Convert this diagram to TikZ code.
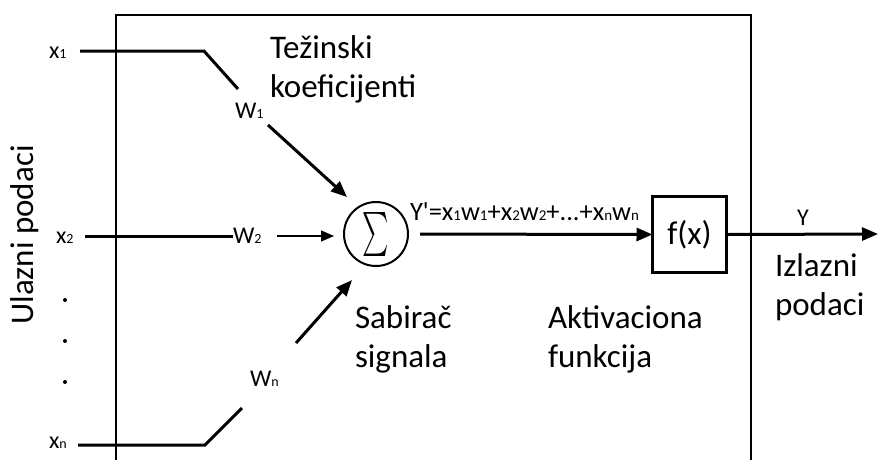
\documentclass[tikz,border=0pt]{standalone}
\usepackage{fontspec}
\setmainfont{Carlito}
\usetikzlibrary{arrows.meta}
\newcommand\lowidx[1]{{\fontsize{14}{14}\selectfont #1}}
\newcommand\fidx[1]{{\fontsize{15}{15}\selectfont #1}}
\begin{document}
\begin{tikzpicture}[x=1pt,y=-1pt,
  every node/.style={inner sep=0pt, outer sep=0pt},
  big/.style={font=\fontsize{33}{39}\selectfont, align=left, anchor=base west},
  lbl/.style={font=\fontsize{24}{24}\selectfont, anchor=base west},
  wire/.style={line width=3pt},
  thinwire/.style={line width=1.4pt},
  arr/.style={-{Triangle[length=16pt,width=13pt]}},
  tarr/.style={-{Triangle[length=13pt,width=11pt]}},
  dot/.style={circle, fill, minimum size=4pt},
]
\useasboundingbox (0,0) rectangle (878,459);
% frame
\coordinate (fbl) at (116,462);
\coordinate (ftl) at (116,15);
\coordinate (ftr) at (751,15);
\coordinate (fbr) at (751,462);
\draw[line width=1.3pt] (fbl) -- (ftl) -- (ftr) -- (fbr);

% inputs
\node[lbl] (x1) at (49,58) {x\lowidx{1}};
\node[lbl] (x2) at (56,243) {x\lowidx{2}};
\node[lbl] (xn) at (49,448) {x\lowidx{n}};
\node[dot] (d1) at (65,300) {};
\node[dot] (d2) at (65,341) {};
\node[dot] (d3) at (65,382) {};

\node[lbl] (w1) at (235,118) {W\lowidx{1}};
\node[lbl] (w2) at (233,243) {W\lowidx{2}};
\node[lbl] (wn) at (250,386) {W\lowidx{n}};

\node[big, rotate=90, anchor=base] (ul) at (33,235) {Ulazni podaci};

% sum and activation
\node[circle, draw, line width=2pt, minimum size=64pt] (sum) at (376,234) {\scalebox{2.5}[4.4]{$\sum$}};
\node[draw, line width=3pt, minimum width=74pt, minimum height=76pt, font=\fontsize{33}{33}\selectfont] (fx) at (689.5,234.5) {f(x)};

% wires
\coordinate (x1a) at (80,51);
\coordinate (x1b) at (204,51);
\coordinate (x1c) at (238,89);
\draw[wire] (x1a) -- (x1b) -- (x1c);
\coordinate (xna) at (78,445);
\coordinate (xnb) at (205,445);
\coordinate (xnc) at (242,408);
\draw[wire] (xna) -- (xnb) -- (xnc);
\coordinate (x2a) at (85,236);
\coordinate (x2b) at (233,236);
\draw[wire] (x2a) -- (x2b);

\coordinate (a1s) at (268,125);
\coordinate (a1e) at (347,197);
\draw[wire, arr] (a1s) -- (a1e);
\coordinate (a2s) at (277,236);
\coordinate (a2e) at (334,236);
\draw[thinwire, tarr] (a2s) -- (a2e);
\coordinate (ans) at (296,343);
\coordinate (ane) at (352,280);
\draw[wire, arr] (ans) -- (ane);

\draw[wire, arr, shorten <=12pt] (sum.east) -- (fx.west);
\coordinate (outend) at (878,234);
\draw[wire, arr] (fx.east) -- (outend);

% texts
\node[font=\fontsize{26.5}{27}\selectfont, anchor=base west] (form) at (410,220)
  {Y\textquotesingle=x\fidx{1}w\fidx{1}+x\fidx{2}w\fidx{2}+...+x\fidx{n}w\fidx{n}};
\node[lbl] (ylbl) at (797,225) {Y};
\node[big] (tez) at (270,97) {Težinski\\koeficijenti};
\node[big] (sab) at (355,367) {Sabirač\\signala};
\node[big] (akt) at (548,367) {Aktivaciona\\funkcija};
\node[big] (izl) at (775,315) {Izlazni\\podaci};
\end{tikzpicture}
\end{document}
